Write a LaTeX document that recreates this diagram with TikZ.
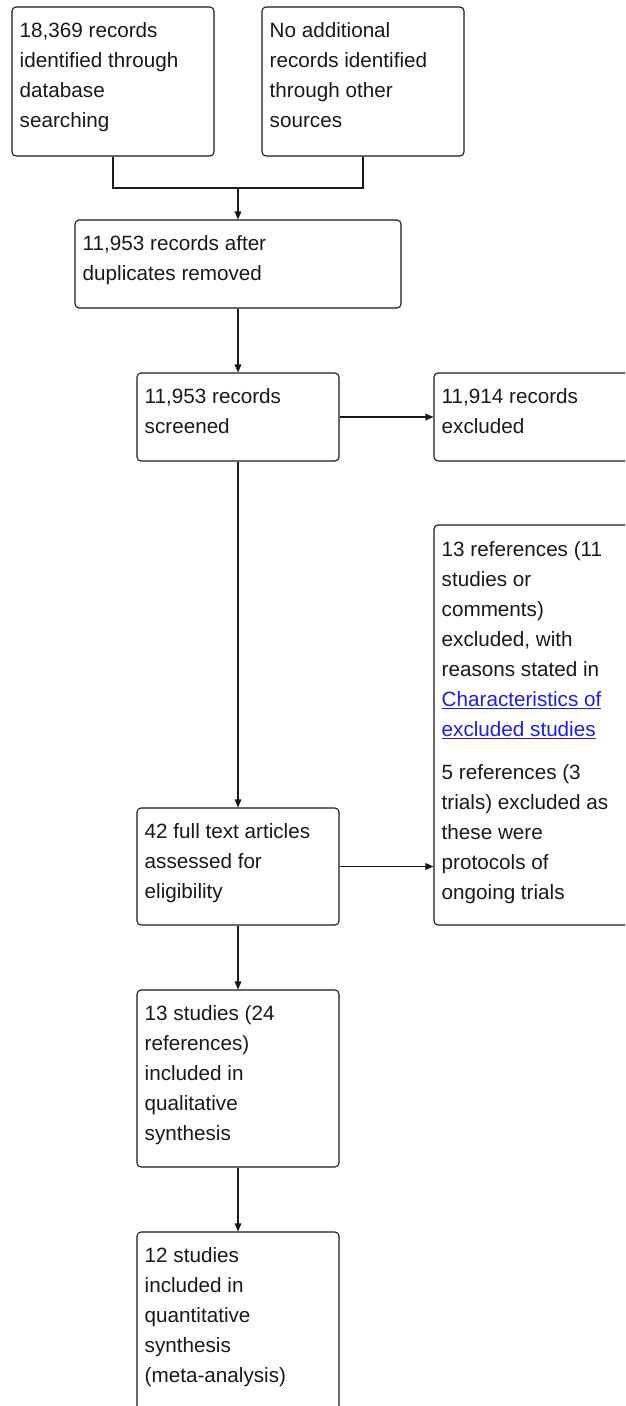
\documentclass[tikz,border=0pt]{standalone}
\usepackage{fontspec}
\setmainfont{Liberation Sans}
\usetikzlibrary{arrows.meta,fit}
\definecolor{linkblue}{RGB}{30,30,230}
\definecolor{ink}{RGB}{25,25,25}
\begin{document}
\begin{tikzpicture}[x=0.75pt,y=-0.75pt,
  box/.style={draw=ink, line width=0.8pt, rounded corners=3pt, inner sep=0pt, rectangle},
  txt/.style={anchor=north west, align=left, inner sep=0pt, font=\fontsize{15.5pt}{22.5pt}\selectfont, text=ink, execute at begin node=\strut},
  arr/.style={draw=ink, line width=0.8pt, -{Triangle[length=6pt,width=5pt]}},
  ln/.style={draw=ink, line width=0.8pt}]
\useasboundingbox (0,0) rectangle (625,1406);
\clip (0,0) rectangle (625,1406);

\node[box, fit={(12,7)(214,156)}] (a) {};
\node[box, fit={(262,7)(464,156)}] (b) {};
\node[box, fit={(75,220)(401,308)}] (c) {};
\node[box, fit={(137,373)(339,461)}] (d) {};
\node[box, fit={(434,373)(636,461)}] (e) {};
\node[box, fit={(434,525)(636,925)}] (f) {};
\node[box, fit={(137,808)(339,925)}] (g) {};
\node[box, fit={(137,990)(339,1167)}] (h) {};
\node[box, fit={(137,1232)(339,1440)}] (i) {};

\node[txt] (at) at ([xshift=6pt,yshift=-12pt]a.north west) {18,369 records\\identified through\\database\\searching};
\node[txt] (bt) at ([xshift=6pt,yshift=-12pt]b.north west) {No additional\\records identified\\through other\\sources};
\node[txt] (ct) at ([xshift=6pt,yshift=-12pt]c.north west) {11,953 records after\\duplicates removed};
\node[txt] (dt) at ([xshift=6pt,yshift=-12pt]d.north west) {11,953 records\\screened};
\node[txt] (et) at ([xshift=6pt,yshift=-12pt]e.north west) {11,914 records\\excluded};
\node[txt] (ft) at ([xshift=6pt,yshift=-12.5pt]f.north west) {13 references (11\\studies or\\comments)\\excluded, with\\reasons stated in\\\textcolor{linkblue}{\underline{Characteristics of}}\\\textcolor{linkblue}{\underline{excluded studies}}\\[9.75pt]5 references (3\\trials) excluded as\\these were\\protocols of\\ongoing trials};
\node[txt] (gt) at ([xshift=6pt,yshift=-12pt]g.north west) {42 full text articles\\assessed for\\eligibility};
\node[txt] (ht) at ([xshift=6pt,yshift=-12pt]h.north west) {13 studies (24\\references)\\included in\\qualitative\\synthesis};
\node[txt] (it) at ([xshift=6pt,yshift=-12pt]i.north west) {12 studies\\included in\\quantitative\\synthesis\\(meta-analysis)};

\coordinate (j) at (c.north |- 0,188);
\draw[ln] (a.south) |- (j);
\draw[ln] (b.south) |- (j);
\draw[arr] (j) -- (c.north);
\draw[arr] (c.south) -- (d.north);
\draw[arr] (d.east) -- (e.west);
\draw[arr] (d.south) -- (g.north);
\draw[arr] (g.east) -- (g.east -| f.west);
\draw[arr] (g.south) -- (h.north);
\draw[arr] (h.south) -- (i.north);
\end{tikzpicture}
\end{document}
